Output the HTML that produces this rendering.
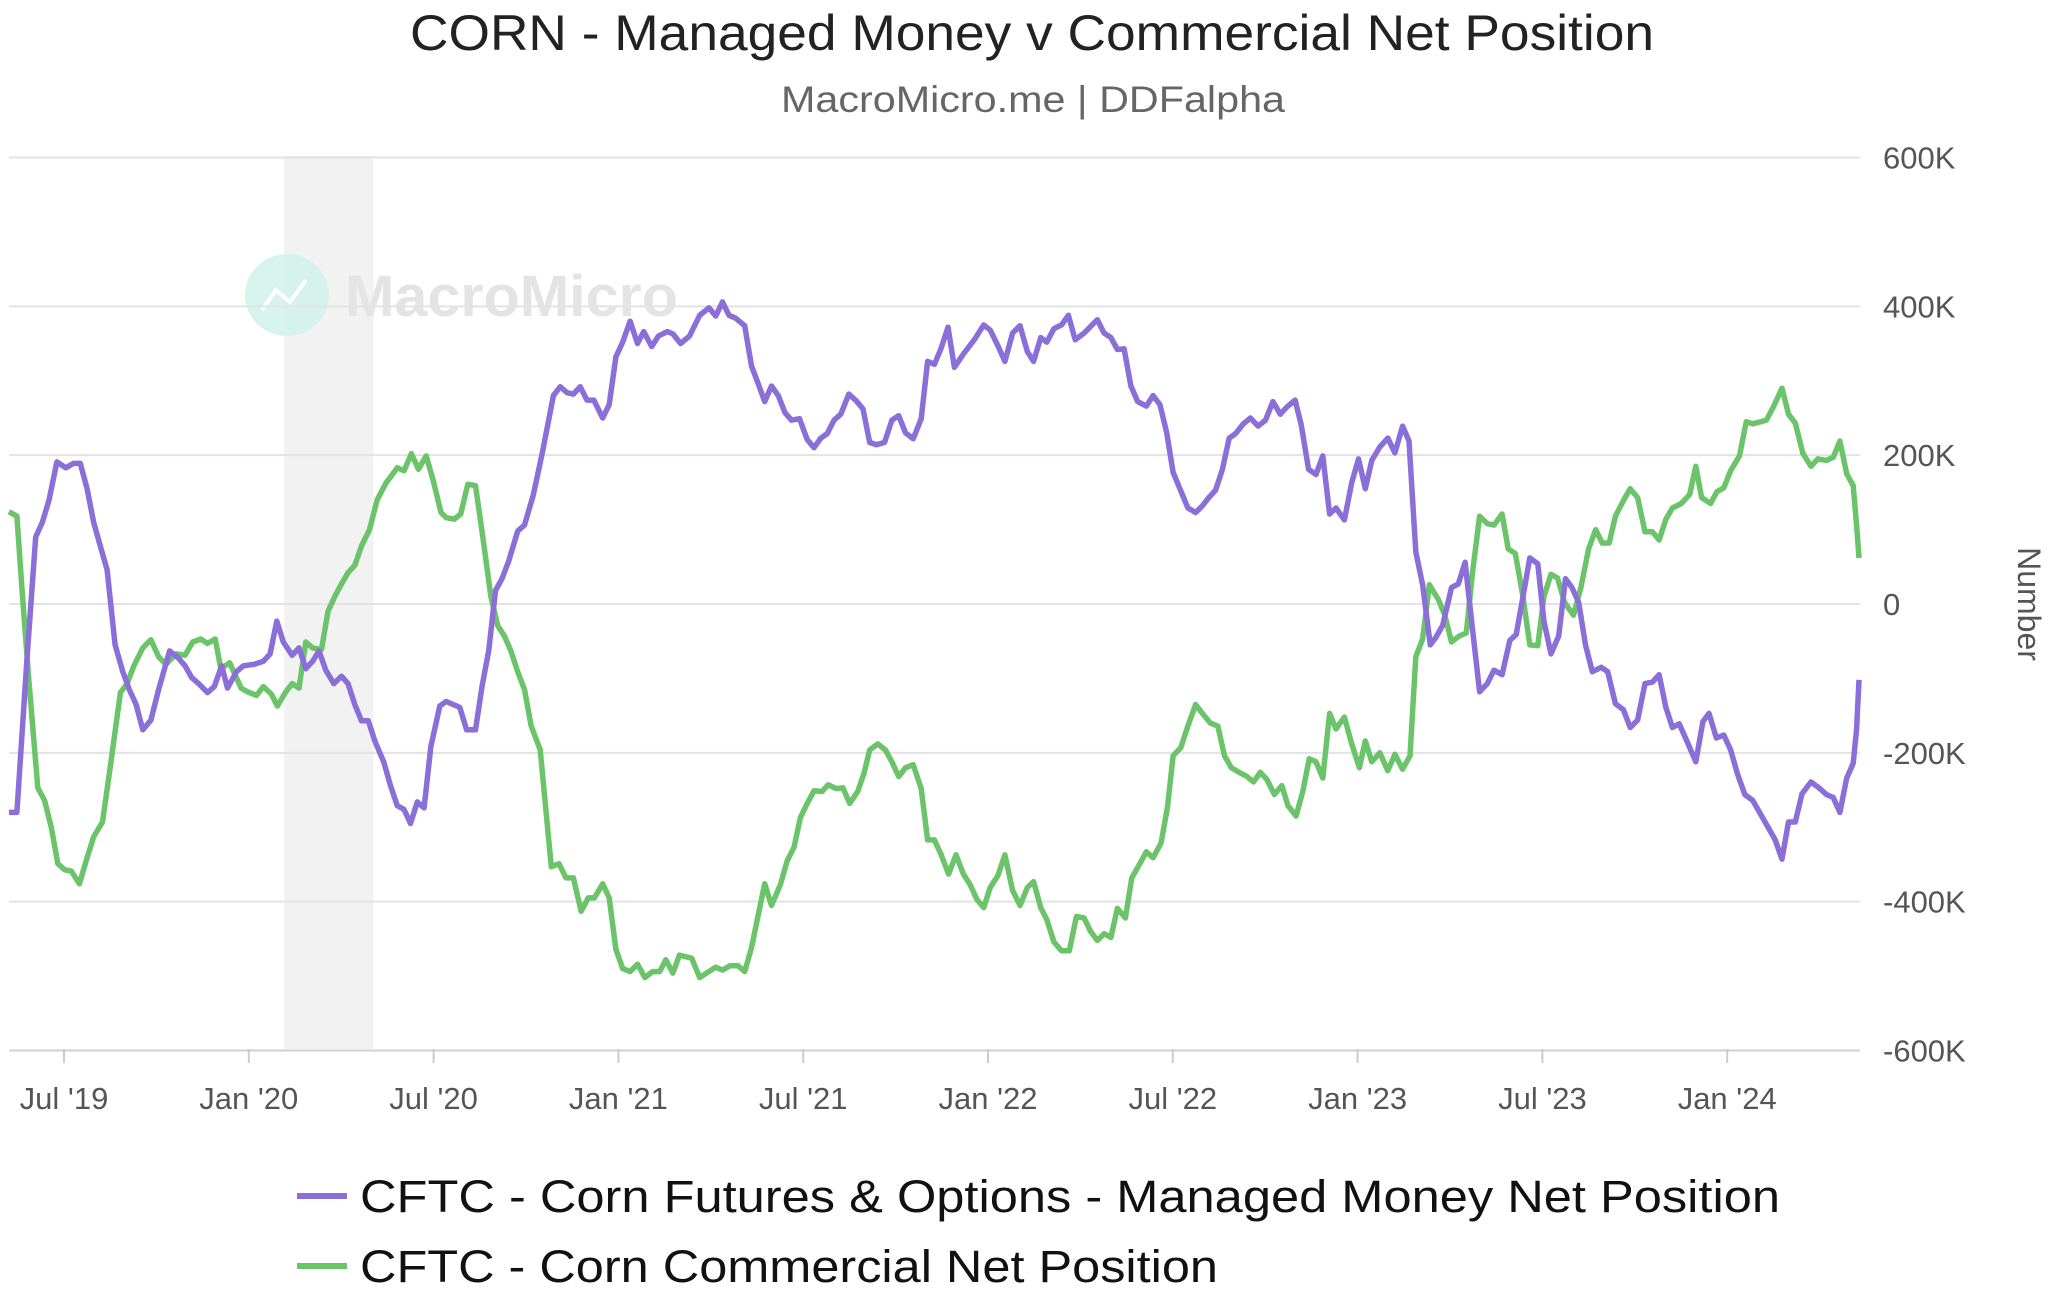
<!DOCTYPE html>
<html><head><meta charset="utf-8"><style>
html,body{margin:0;padding:0;background:#fff;}
svg{display:block;font-family:"Liberation Sans",sans-serif;}
</style></head><body>
<svg id="chart" width="2048" height="1304" viewBox="0 0 2048 1304" xmlns="http://www.w3.org/2000/svg">
<text x="1032" y="50" text-anchor="middle" font-size="50" fill="#222" textLength="1244" lengthAdjust="spacingAndGlyphs">CORN - Managed Money v Commercial Net Position</text>
<text x="1033" y="112" text-anchor="middle" font-size="37" fill="#666" textLength="504" lengthAdjust="spacingAndGlyphs">MacroMicro.me | DDFalpha</text>
<g id="plot"></g>
<g>
<g>
<line x1="297" y1="1196" x2="347" y2="1196" stroke="#8b6fd8" stroke-width="6"/>
<text x="360" y="1212" font-size="45" fill="#111" textLength="1420" lengthAdjust="spacingAndGlyphs">CFTC - Corn Futures &amp; Options - Managed Money Net Position</text>
</g>
<g>
<line x1="297" y1="1266" x2="347" y2="1266" stroke="#6cc46a" stroke-width="6"/>
<text x="360" y="1282" font-size="45" fill="#111" textLength="858" lengthAdjust="spacingAndGlyphs">CFTC - Corn Commercial Net Position</text>
</g>
</g>
</svg>
<script>
// months offset from Jul 1 2019, values in thousands
const mmMonths = [-1.79,-1.53,-1.21,-0.92,-0.70,-0.49,-0.23,0.06,0.31,0.53,0.75,0.96,1.18,1.40,1.66,1.91,2.12,2.34,2.56,2.82,3.07,3.43,3.72,3.93,4.15,4.37,4.66,4.88,5.12,5.31,5.60,5.82,6.18,6.47,6.69,6.91,7.12,7.41,7.63,7.85,8.07,8.28,8.50,8.76,9.01,9.22,9.44,9.66,9.88,10.09,10.38,10.60,10.82,11.04,11.25,11.47,11.69,11.91,12.20,12.41,12.85,13.07,13.36,13.57,13.79,14.01,14.22,14.44,14.73,14.95,15.24,15.53,15.89,16.11,16.33,16.54,16.76,16.98,17.20,17.49,17.70,17.92,18.14,18.38,18.62,18.82,19.08,19.30,19.59,19.77,20.02,20.31,20.64,20.94,21.16,21.38,21.59,21.81,22.10,22.32,22.54,22.75,22.97,23.19,23.41,23.62,23.88,24.13,24.35,24.57,24.78,25.00,25.22,25.48,25.72,25.94,26.16,26.38,26.64,26.88,27.10,27.32,27.57,27.83,28.04,28.26,28.48,28.70,28.91,29.20,29.57,29.86,30.07,30.32,30.55,30.80,31.04,31.28,31.48,31.71,31.91,32.14,32.39,32.61,32.83,33.12,33.55,33.77,33.99,34.20,34.42,34.64,34.86,35.14,35.36,35.58,35.80,36.01,36.23,36.49,36.74,36.96,37.17,37.39,37.61,37.83,38.04,38.29,38.52,38.77,39.01,39.25,39.49,39.71,39.97,40.17,40.41,40.65,40.87,41.09,41.30,41.57,41.81,42.03,42.25,42.46,42.72,42.98,43.21,43.46,43.67,43.89,44.11,44.36,44.54,44.76,45.05,45.27,45.49,45.70,45.96,46.21,46.43,46.69,46.94,47.15,47.37,47.59,47.85,48.05,48.28,48.53,48.75,48.96,49.18,49.40,49.62,49.91,50.12,50.37,50.63,50.85,51.09,51.33,51.57,51.79,52.01,52.22,52.44,52.73,52.98,53.21,53.41,53.65,53.89,54.11,54.33,54.57,54.83,55.12,55.41,55.56,55.78,55.99,56.21,56.43,56.72,57.01,57.22,57.44,57.66,57.88,58.09,58.20,58.28];
const mmValues = [-280,-280,-79,90,110,139,191,183,189,189,155,110,78,46,-55,-91,-115,-135,-169,-156,-115,-63,-73,-83,-99,-107,-119,-111,-83,-113,-91,-83,-81,-77,-67,-23,-51,-69,-59,-87,-77,-63,-89,-107,-97,-107,-135,-157,-157,-184,-212,-244,-271,-276,-295,-266,-274,-192,-137,-131,-139,-169,-169,-111,-63,18,34,58,98,106,147,203,280,292,284,282,292,274,274,250,268,332,352,380,350,366,346,360,366,363,350,360,388,398,387,406,388,384,374,320,296,272,293,280,257,247,249,221,210,223,229,247,255,282,273,262,217,214,217,247,253,230,222,249,326,322,344,372,318,336,356,375,368,347,326,364,374,339,326,358,352,370,375,388,355,364,382,364,358,342,343,293,272,266,280,268,231,177,155,129,123,132,143,153,181,223,229,242,250,239,247,272,255,265,274,241,181,174,199,121,129,113,163,195,155,193,211,223,203,239,219,70,26,-55,-45,-29,22,27,56,-23,-118,-107,-89,-95,-49,-41,10,62,54,-23,-67,-43,34,22,2,-55,-91,-85,-91,-134,-142,-166,-156,-107,-105,-95,-139,-166,-161,-188,-212,-158,-147,-180,-176,-196,-228,-256,-264,-285,-306,-317,-343,-293,-293,-255,-239,-248,-256,-260,-280,-234,-214,-168,-102];
const comMonths = [-1.79,-1.53,-1.36,-1.14,-0.85,-0.63,-0.41,-0.20,0.02,0.24,0.50,0.75,0.96,1.25,1.54,1.83,2.05,2.27,2.56,2.82,3.07,3.31,3.64,3.93,4.18,4.44,4.66,4.91,5.09,5.38,5.75,5.96,6.25,6.47,6.73,6.93,7.20,7.41,7.63,7.85,8.07,8.36,8.57,8.79,9.01,9.22,9.44,9.66,9.92,10.17,10.46,10.82,11.04,11.28,11.51,11.76,11.98,12.24,12.41,12.67,12.88,13.11,13.36,13.57,13.86,14.08,14.30,14.51,14.73,14.95,15.17,15.46,15.82,16.07,16.30,16.54,16.79,17.02,17.22,17.49,17.70,17.92,18.14,18.38,18.62,18.86,19.11,19.34,19.54,19.77,19.98,20.38,20.64,21.16,21.38,21.62,21.88,22.10,22.32,22.54,22.75,22.97,23.26,23.48,23.70,23.91,24.13,24.35,24.61,24.81,25.07,25.29,25.51,25.77,25.97,26.16,26.42,26.67,26.88,27.10,27.32,27.57,27.83,28.04,28.26,28.48,28.72,28.96,29.20,29.42,29.64,29.86,30.07,30.32,30.55,30.80,31.04,31.28,31.48,31.71,31.91,32.14,32.39,32.64,32.87,33.12,33.33,33.55,33.77,33.99,34.20,34.46,34.67,34.93,35.14,35.36,35.62,35.83,36.01,36.26,36.49,36.74,36.96,37.22,37.46,37.68,37.90,38.14,38.38,38.62,38.84,39.06,39.30,39.54,39.74,40.00,40.22,40.43,40.65,40.87,41.09,41.30,41.57,41.81,42.06,42.25,42.46,42.72,42.98,43.21,43.46,43.70,43.89,44.11,44.33,44.62,44.83,45.05,45.30,45.53,45.73,45.96,46.21,46.43,46.69,46.89,47.12,47.37,47.59,47.85,48.05,48.28,48.49,48.72,49.01,49.25,49.50,49.73,49.94,50.17,50.37,50.63,50.85,51.09,51.33,51.57,51.79,52.01,52.22,52.51,52.78,52.98,53.17,53.46,53.67,53.89,54.11,54.40,54.62,54.83,55.27,55.49,55.78,55.99,56.21,56.46,56.72,56.94,57.22,57.44,57.66,57.88,58.09,58.20,58.28];
const comValues = [124,118,18,-103,-247,-264,-301,-349,-357,-359,-376,-341,-313,-293,-208,-119,-107,-83,-59,-48,-71,-81,-67,-69,-51,-47,-53,-47,-87,-79,-113,-118,-123,-111,-121,-137,-118,-107,-113,-51,-59,-61,-10,10,27,42,52,78,100,140,163,183,179,202,181,199,167,123,116,114,121,161,159,98,10,-29,-43,-63,-91,-115,-164,-196,-353,-349,-368,-368,-413,-395,-395,-376,-395,-464,-490,-494,-484,-502,-494,-494,-478,-496,-472,-476,-502,-488,-492,-486,-486,-494,-462,-418,-376,-405,-377,-345,-327,-287,-268,-251,-252,-243,-248,-247,-268,-252,-228,-196,-188,-196,-212,-232,-220,-216,-248,-317,-317,-337,-363,-337,-363,-377,-397,-408,-381,-365,-337,-385,-405,-381,-373,-408,-424,-454,-466,-466,-420,-422,-440,-452,-443,-448,-409,-422,-368,-349,-333,-341,-321,-272,-204,-193,-164,-135,-147,-160,-164,-204,-220,-226,-231,-239,-226,-236,-256,-244,-271,-285,-252,-208,-212,-234,-147,-168,-152,-188,-220,-184,-212,-200,-224,-202,-222,-204,-71,-47,26,6,-15,-51,-43,-39,42,118,108,106,121,74,68,10,-55,-56,10,40,35,2,-15,22,74,100,82,82,118,139,155,143,97,97,86,114,129,135,147,185,143,135,151,156,179,199,245,242,247,264,290,255,243,202,185,195,193,197,219,175,159,106,62];
const yTicks = [600,400,200,0,-200,-400,-600];
const yTickLabels = ["600K","400K","200K","0","-200K","-400K","-600K"];
const xTickMonths = [0,6,12,18,24,30,36,42,48,54];
const xTickLabels = ["Jul '19","Jan '20","Jul '20","Jan '21","Jul '21","Jan '22","Jul '22","Jan '23","Jul '23","Jan '24"];
const recessionBand = [7.15,10.05];

const NS="http://www.w3.org/2000/svg";
const L=9,R=1860,T=156,B=1049;
const xs=m=>64+m*30.8;
const ys=v=>604 - v*(B-T)/1200;
const plot=document.getElementById('plot');
function mk(tag,attrs){const e=document.createElementNS(NS,tag);for(const k in attrs)e.setAttribute(k,attrs[k]);return e;}

const band=mk('rect',{x:xs(recessionBand[0]),y:T,width:xs(recessionBand[1])-xs(recessionBand[0]),height:B-T,fill:'#f2f2f2'});


plot.appendChild(band);

const wm=mk('g',{});


wm.appendChild(mk('ellipse',{cx:287,cy:295,rx:42,ry:41,fill:'#d3f2ec',opacity:'0.9'}));
wm.appendChild(mk('polyline',{points:'262,310 276,290 290,302 306,280',fill:'none',stroke:'#fff','stroke-width':4}));
const wt=mk('text',{x:345,y:316,'font-size':58,'font-weight':'bold',fill:'#e4e4e4',textLength:333,lengthAdjust:'spacingAndGlyphs'});
wt.textContent='MacroMicro';
wm.appendChild(wt);
plot.appendChild(wm);

yTicks.forEach((v,i)=>{
  const g=mk('line',{x1:L,x2:R,y1:ys(v),y2:ys(v),stroke:i===yTicks.length-1?'#d0d0d0':'#e3e3e3','stroke-width':2});
  
  
  plot.appendChild(g);
  const t=mk('text',{x:1883,y:ys(v)+11,'font-size':31,fill:'#555'});
  t.textContent=yTickLabels[i];
  
  
  plot.appendChild(t);
});
const yt=mk('text',{x:0,y:0,'font-size':32,fill:'#555','text-anchor':'middle',transform:'translate(2018,604) rotate(90)'});
yt.textContent='Number';


plot.appendChild(yt);

xTickMonths.forEach((m,i)=>{
  const tk=mk('line',{x1:xs(m),x2:xs(m),y1:B,y2:B+14,stroke:'#ccc','stroke-width':2});
  
  
  plot.appendChild(tk);
  const t=mk('text',{x:xs(m),y:1109,'font-size':31,fill:'#555','text-anchor':'middle'});
  t.textContent=xTickLabels[i];
  
  
  plot.appendChild(t);
});

function series(months,vals,color,name){
  const p=mk('polyline',{points:months.map((m,i)=>xs(m).toFixed(1)+','+ys(vals[i]).toFixed(1)).join(' '),fill:'none',stroke:color,'stroke-width':5.5,'stroke-linejoin':'round'});
  
  
  plot.appendChild(p);
}
series(comMonths,comValues,'#6cc46a','commercial-net-line');
series(mmMonths,mmValues,'#8b6fd8','managed-money-net-line');
</script>
</body></html>
